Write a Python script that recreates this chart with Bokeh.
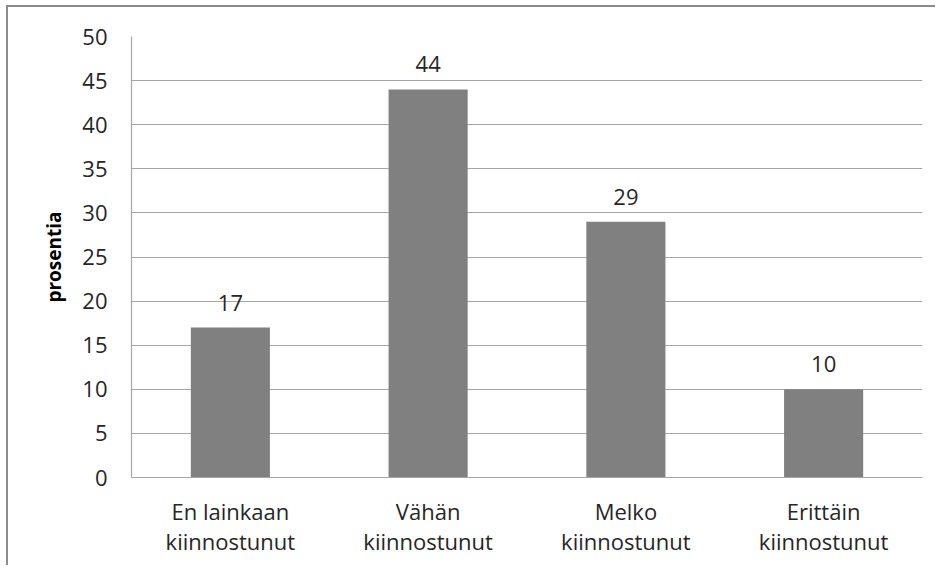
from bokeh.plotting import figure
from bokeh.models import ColumnDataSource, FixedTicker, Range1d, FactorRange, Div
from bokeh.layouts import column
from bokeh.core.properties import value
from bokeh.embed import file_html
from bokeh.resources import INLINE

categories = ["En lainkaan\nkiinnostunut", "Vähän\nkiinnostunut", "Melko\nkiinnostunut", "Erittäin\nkiinnostunut"]
values = [17, 44, 29, 10]
value_labels = ["17", "44", "29", "10"]
y_ticks = [0, 5, 10, 15, 20, 25, 30, 35, 40, 45, 50]

FONT = "Open Sans"
TXT = "#262626"
FS = "22px"
EDGE = "#8c8c8c"

src = ColumnDataSource(dict(cat=categories, val=values, lab=value_labels))

p = figure(width=925, height=558, output_backend="svg", toolbar_location=None,
           x_range=FactorRange(*categories, range_padding=0), y_range=Range1d(0, 50),
           min_border_left=123, min_border_right=11, min_border_top=29, min_border_bottom=88)

p.vbar(x="cat", top="val", width=0.4, source=src, fill_color="#808080", line_color=None)
p.text(x="cat", y="val", text="lab", source=src, text_align="center", text_baseline="bottom",
       y_offset=-17, text_font_size=FS, text_color=TXT, text_font=value(FONT))

p.outline_line_color = None
p.background_fill_color = "white"
p.border_fill_color = "white"

p.xgrid.grid_line_color = None
p.ygrid.grid_line_color = "#a6a6a6"
p.ygrid.grid_line_width = 1.2
p.ygrid.ticker = FixedTicker(ticks=y_ticks)

p.yaxis.ticker = FixedTicker(ticks=y_ticks)
p.yaxis.axis_line_color = "#a6a6a6"
p.yaxis.axis_line_width = 1.2
p.yaxis.major_tick_line_color = None
p.yaxis.minor_tick_line_color = None
p.yaxis.major_tick_out = 0
p.yaxis.major_tick_in = 0
p.yaxis.major_label_standoff = 24
p.yaxis.major_label_text_font = FONT
p.yaxis.major_label_text_font_size = FS
p.yaxis.major_label_text_color = TXT
p.yaxis.axis_label = "prosentia"
p.yaxis.axis_label_text_font = FONT
p.yaxis.axis_label_text_font_style = "bold"
p.yaxis.axis_label_text_font_size = "19px"
p.yaxis.axis_label_text_color = "#000000"
p.yaxis.axis_label_standoff = 12

p.xaxis.axis_line_color = "#a6a6a6"
p.xaxis.axis_line_width = 1.2
p.xaxis.major_tick_line_color = None
p.xaxis.minor_tick_line_color = None
p.xaxis.major_tick_out = 0
p.xaxis.major_tick_in = 0
p.xaxis.major_label_standoff = 18
p.xaxis.major_label_text_font = FONT
p.xaxis.major_label_text_font_size = FS
p.xaxis.major_label_text_color = TXT
p.xaxis.major_label_text_line_height = 1.0

p.styles = {"margin-left": "8px", "box-shadow": f"-2px 0 0 0 {EDGE}"}

top_edge = Div(text="", width=929, height=2, margin=0,
               styles={"background-color": EDGE, "margin-left": "6px"})

layout = column(top_edge, p, spacing=0, styles={"margin-top": "5px"})

open("out.html", "w").write(file_html(layout, INLINE))
